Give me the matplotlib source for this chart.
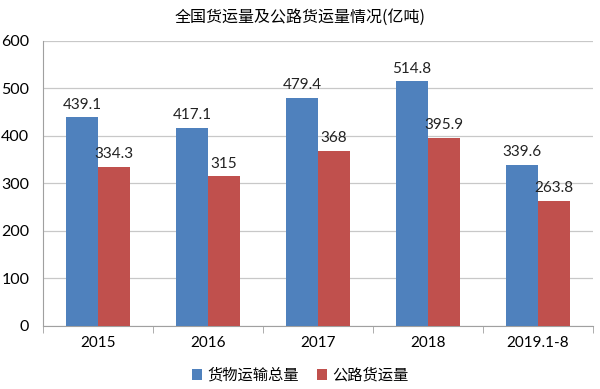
import matplotlib
matplotlib.use("Agg")
import matplotlib.pyplot as plt
import numpy as np

plt.rcParams['font.family'] = ['Lato', 'Noto Sans CJK SC', 'DejaVu Sans']

years = ['2015', '2016', '2017', '2018', '2019.1-8']
total = [439.1, 417.1, 479.4, 514.8, 339.6]
road = [334.3, 315, 368, 395.9, 263.8]
total_labels = ['439.1', '417.1', '479.4', '514.8', '339.6']
road_labels = ['334.3', '315', '368', '395.9', '263.8']

fig = plt.figure(figsize=(6, 3.89), dpi=100)
ax = fig.add_axes([0.072, 0.162, 0.916, 0.733])

x = np.arange(len(years))
w = 0.29
b1 = ax.bar(x - w / 2, total, w, color='#4F81BD', label='货物运输总量', zorder=3)
b2 = ax.bar(x + w / 2, road, w, color='#C0504D', label='公路货运量', zorder=3)

for bar, t in zip(b1, total_labels):
    ax.text(bar.get_x() + bar.get_width() / 2, bar.get_height() + 12, t,
            ha='center', va='bottom', fontsize=11, color='#222222')
for bar, t in zip(b2, road_labels):
    ax.text(bar.get_x() + bar.get_width() / 2, bar.get_height() + 12, t,
            ha='center', va='bottom', fontsize=11, color='#222222')

ax.set_xlim(-0.5, len(years) - 0.5)
ax.set_ylim(0, 600)
ax.set_yticks(range(0, 601, 100))
ax.yaxis.grid(True, color='#C8C8C8', linewidth=0.9, zorder=0)
ax.set_xticks(x)
ax.set_xticklabels(years, fontsize=11)
ax.tick_params(axis='y', labelsize=11.5, length=0, pad=10)
ax.tick_params(axis='x', length=0, pad=7)
# category separators
ax.set_xticks(np.arange(-0.5, len(years), 1), minor=True)
ax.tick_params(axis='x', which='minor', length=5, color='#A0A0A0')

for s in ['top', 'right']:
    ax.spines[s].set_visible(False)
ax.spines['left'].set_color('#A0A0A0')
ax.spines['bottom'].set_color('#A0A0A0')

fig.text(0.5, 0.955, '全国货运量及公路货运量情况(亿吨)', ha='center', va='center',
         fontsize=11.5, family=['Noto Sans CJK SC', 'DejaVu Sans'])

fig.legend(handles=[b1, b2], loc='center', bbox_to_anchor=(0.5, 0.035), ncol=2,
           frameon=False, handlelength=0.7, handleheight=0.7,
           handletextpad=0.3, columnspacing=1.2,
           prop={'family': ['Noto Sans CJK SC', 'DejaVu Sans'], 'size': 11})

fig.savefig('out.png', dpi=100)
